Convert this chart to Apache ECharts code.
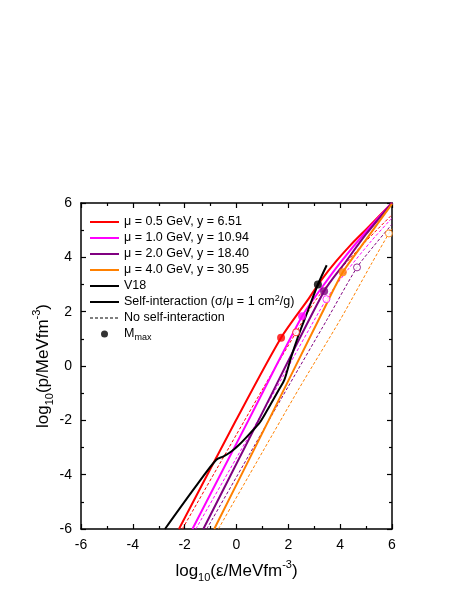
<!DOCTYPE html>
<html>
<head>
<meta charset="utf-8">
<script src="https://cdn.jsdelivr.net/npm/echarts@6/dist/echarts.min.js"></script>
<style>
  html, body { margin: 0; padding: 0; background: #fff; }
  #chart { width: 468px; height: 605px; }
</style>
</head>
<body>
<div id="chart"></div>
<script>
  // axis ticks
  var tickMin = -6, tickMax = 6, tickStep = 2;

  // legend names
  var muNames = ['μ = 0.5 GeV, y = 6.51', 'μ = 1.0 GeV, y = 10.94', 'μ = 2.0 GeV, y = 18.40', 'μ = 4.0 GeV, y = 30.95'];
  var muColors = ['#ff0000', '#ff00ff', '#800080', '#ff8000'];

  // with self-interaction (solid)  [log eps, log p]
  var si05 = [[-2.22, -6], [-0.02, -2], [1.72, 1.04], [2.8, 2.5], [3.3, 3.2], [3.84, 3.85], [4.4, 4.45], [5, 5.03], [6, 6]];
  var si10 = [[-1.70, -6], [0.46, -2], [2.53, 1.83], [3.3, 2.9], [4, 3.8], [5, 4.95], [6, 6]];
  var si20 = [[-1.28, -6], [0.85, -2], [3.38, 2.75], [4.2, 3.82], [5, 4.85], [6, 6]];
  var si40 = [[-0.86, -6], [1.24, -2], [3.3, 1.95], [4.1, 3.45], [5, 4.65], [6, 5.97]];

  // no self-interaction (dashed)
  var no05 = [[-2.09, -6], [0, -2.52], [1.1, -0.7], [2.3, 1.24], [3, 2.35], [4, 3.55], [5, 4.6], [6, 5.57]];
  var no10 = [[-1.57, -6], [0, -3.38], [1.5, -0.88], [3.47, 2.46], [4.3, 3.55], [5.2, 4.6], [6, 5.45]];
  var no20 = [[-1.15, -6], [0.5, -3.25], [2, -0.75], [3.5, 1.72], [4.65, 3.63], [5.3, 4.42], [6, 5.22]];
  var no40 = [[-0.70, -6], [1, -3.17], [2.4, -0.85], [4, 1.7], [5.2, 3.75], [5.88, 4.88], [6, 5.05]];

  // V18
  var v18 = [[-2.76, -6], [-1.6, -4.47], [-0.78, -3.45], [-0.5, -3.33], [-0.2, -3.15], [0.1, -2.9],
             [0.52, -2.48], [0.9, -2.08], [1.29, -1.45], [1.65, -0.85], [1.85, -0.5], [2.1, 0.3],
             [2.4, 1.15], [2.7, 1.9], [3.14, 3.0], [3.48, 3.71]];

  // maximum mass points
  var mmaxFilled = [[1.72, 1.04], [2.53, 1.83], [3.38, 2.75], [4.1, 3.45], [3.14, 3.0]];
  var mmaxFilledColors = ['#ff0000', '#ff00ff', '#800080', '#ff8000', '#000000'];
  var mmaxOpen = [[2.3, 1.24], [3.47, 2.46], [4.65, 3.63], [5.88, 4.88]];

  var siSets = [si05, si10, si20, si40];
  var noSets = [no05, no10, no20, no40];

  var fontFam = 'Arial, "Liberation Sans", sans-serif';
  var nameRich = {
    t: { fontSize: 17, lineHeight: 24, fontFamily: fontFam, color: '#000' },
    sub: { fontSize: 11, lineHeight: 11, verticalAlign: 'bottom', fontFamily: fontFam, color: '#000' },
    sup: { fontSize: 11, lineHeight: 11, verticalAlign: 'top', fontFamily: fontFam, color: '#000' }
  };

  // legend keys: plain line, thin dashed line
  var iconSolid = 'path://M0,0h29v2h-29z';
  var iconDash = 'path://M0,0h3v1h-3z M5,0h3v1h-3z M10,0h3v1h-3z M15,0h3v1h-3z M20,0h3v1h-3z M25,0h3v1h-3z M0,0h29v0.01h-29z';

  function baseAxis(extra) {
    var ax = {
      type: 'value',
      min: tickMin,
      max: tickMax,
      interval: tickStep,
      axisLine: { show: true, onZero: false, lineStyle: { color: '#000', width: 1.5 } },
      axisTick: { show: true, inside: true, length: 5, lineStyle: { color: '#000', width: 1.2 } },
      minorTick: { show: true, splitNumber: 2, length: 3, lineStyle: { color: '#000', width: 1.2 } },
      splitLine: { show: false },
      axisLabel: { color: '#000', fontSize: 14, fontFamily: fontFam, margin: 9 }
    };
    for (var k in extra) ax[k] = extra[k];
    return ax;
  }

  var series = [];
  siSets.forEach(function (d, i) {
    series.push({
      name: muNames[i], type: 'line', data: d, symbol: 'none', smooth: 0.25,
      lineStyle: { color: muColors[i], width: 2 }, itemStyle: { color: muColors[i] }, z: 3
    });
  });
  noSets.forEach(function (d, i) {
    series.push({
      name: 'no-si-' + i, type: 'line', data: d, symbol: 'none', smooth: 0.25,
      lineStyle: { color: muColors[i], width: 1, type: [3, 2] }, itemStyle: { color: muColors[i] }, z: 2
    });
  });
  series.push({
    name: 'V18', type: 'line', data: v18, symbol: 'none', smooth: 0.3,
    lineStyle: { color: '#000', width: 2 }, itemStyle: { color: '#000' }, z: 4
  });
  // legend-only style keys
  series.push({
    name: 'Self-interaction (σ/μ = 1 cm2/g)', type: 'line', data: [], symbol: 'none',
    lineStyle: { color: '#000', width: 2 }, itemStyle: { color: '#000' }
  });
  series.push({
    name: 'No self-interaction', type: 'line', data: [], symbol: 'none',
    lineStyle: { color: '#000', width: 1, type: [3, 2] }, itemStyle: { color: '#000' }
  });
  series.push({
    name: 'Mmax', type: 'scatter', symbol: 'circle', symbolSize: 8, z: 6,
    itemStyle: { color: '#000' },
    data: mmaxFilled.map(function (p, i) {
      return { value: p, itemStyle: { color: mmaxFilledColors[i] } };
    })
  });
  series.push({
    name: 'open', type: 'scatter', symbol: 'circle', symbolSize: 7, z: 6,
    data: mmaxOpen.map(function (p, i) {
      return { value: p, itemStyle: { color: '#fff', borderColor: muColors[i], borderWidth: 1 } };
    })
  });

  var legendData = muNames.map(function (n) { return { name: n, icon: iconSolid }; });
  legendData.push({ name: 'V18', icon: iconSolid });
  legendData.push({ name: 'Self-interaction (σ/μ = 1 cm2/g)', icon: iconSolid });
  legendData.push({ name: 'No self-interaction', icon: iconDash });
  legendData.push({ name: 'Mmax', icon: 'circle' });

  var chart = echarts.init(document.getElementById('chart'));
  chart.setOption({
    animation: false,
    backgroundColor: '#fff',
    grid: { left: 81, right: 76, top: 203, bottom: 76 },
    legend: {
      orient: 'vertical',
      left: 85,
      top: 209,
      itemWidth: 29,
      itemHeight: 7,
      itemGap: 0,
      data: legendData,
      formatter: function (name) {
        if (name === 'Mmax') return '{t|M}{sub|max}';
        if (name.indexOf('Self') === 0) return '{t|Self-interaction (σ/μ = 1 cm}{sup|2}{t|/g)}';
        return '{t|' + name + '}';
      },
      textStyle: {
        fontSize: 12.5, fontFamily: fontFam, color: '#000', lineHeight: 16,
        rich: {
          t: { fontSize: 12.5, lineHeight: 16, fontFamily: fontFam, color: '#000' },
          sub: { fontSize: 9, lineHeight: 9, verticalAlign: 'bottom', fontFamily: fontFam, color: '#000' },
          sup: { fontSize: 9, lineHeight: 9, verticalAlign: 'top', fontFamily: fontFam, color: '#000' }
        }
      }
    },
    xAxis: [
      baseAxis({
        position: 'bottom',
        name: '{t|log}{sub|10}{t|(ε/MeVfm}{sup|-3}{t|)}',
        nameLocation: 'middle',
        nameGap: 30,
        nameMoveOverlap: false,
        nameTextStyle: { rich: nameRich }
      }),
      baseAxis({ position: 'top', axisLabel: { show: false } })
    ],
    yAxis: [
      baseAxis({
        position: 'left',
        name: '{t|log}{sub|10}{t|(p/MeVfm}{sup|-3}{t|)}',
        nameLocation: 'middle',
        nameGap: 26,
        nameMoveOverlap: false,
        nameTextStyle: { rich: nameRich }
      }),
      baseAxis({ position: 'right', axisLabel: { show: false } })
    ],
    series: series
  });
</script>
</body>
</html>
